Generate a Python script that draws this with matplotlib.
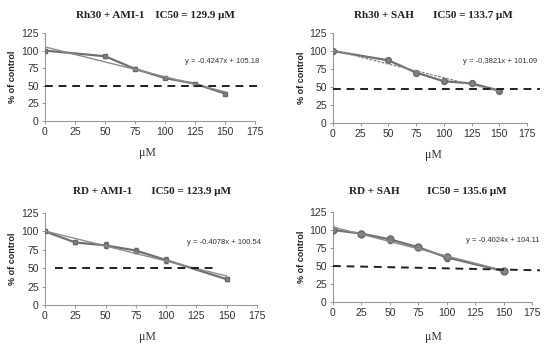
import matplotlib
matplotlib.use("Agg")
import matplotlib.pyplot as plt

# data
titles = ["Rh30 + AMI-1    IC50 = 129.9 \u03bcM", "Rh30 + SAH       IC50 = 133.7 \u03bcM",
          "RD + AMI-1       IC50 = 123.9 \u03bcM", "RD + SAH          IC50 = 135.6 \u03bcM"]
x_rh30 = [0, 50, 75, 100, 125, 150]
x_rd = [0, 25, 50, 75, 100, 150]
y_rh30_ami = [100, 92, 74, 61, 53, 39]
y_rh30_sah = [100, 87, 70, 58, 55, 45]
y_rd_ami = [100, 85, 81, 74, 61, 35]
y_rd_sah = [100, 95, 87, 76, 62, 43]
err_rh30_ami = [1.5, 2, 2, 2, 1.5, 1.5]
err_rh30_sah = [1, 2, 2, 2, 1.5, 1.5]
err_rd_ami = [1, 2, 4, 3, 4, 2]
err_rd_sah = [1, 3, 5, 2, 5, 2]
slopes = [-0.4247, -0.3821, -0.4078, -0.4024]
intercepts = [105.18, 101.09, 100.54, 104.11]
eq_text = ["y = -0.4247x + 105.18", "y = -0,3821x + 101.09",
           "y = -0.4078x + 100.54", "y = -0.4024x + 104.11"]
half_x = [[0, 182], [0, 187], [8, 143], [0, 182]]
half_y = [[50, 50], [47, 47], [50, 50], [50, 44]]
xticks = [0, 25, 50, 75, 100, 125, 150, 175]
yticks = [0, 25, 50, 75, 100, 125]

W, H = 550, 348
fig = plt.figure(figsize=(5.5, 3.48), dpi=100)

# pixel boxes: left, top, right, bottom
boxes = [(45, 33, 255, 121), (333, 33, 527, 123), (45, 213, 257, 305), (333, 212, 532, 302)]
title_pos = [(155, 15), (433, 16), (152, 191), (428, 191)]
xlab_pos = [(147, 153), (433, 155), (147, 337), (433, 337)]
ylab_x = [13, 301, 13, 301]

xs = [x_rh30, x_rh30, x_rd, x_rd]
ys = [y_rh30_ami, y_rh30_sah, y_rd_ami, y_rd_sah]
errs = [err_rh30_ami, err_rh30_sah, err_rd_ami, err_rd_sah]
trend_styles = ["-", (0, (2, 1)), "-", "-"]
markers = ["s", "o", "s", "o"]
msizes = [3.2, 4.2, 3.5, 5]

sans = "Liberation Sans"
serif = "Liberation Serif"

for i in range(4):
    l, t, r, b = boxes[i]
    ax = fig.add_axes([l / W, 1 - b / H, (r - l) / W, (b - t) / H])
    ax.errorbar(xs[i], ys[i], yerr=errs[i], color="#707070", lw=1.6, marker=markers[i],
                ms=msizes[i], mfc="#808080", mec="#6a6a6a", ecolor="#606060",
                elinewidth=0.8, capsize=1.5, zorder=3)
    tx = [0, 150]
    ty = [slopes[i] * v + intercepts[i] for v in tx]
    ax.plot(tx, ty, color="#8c8c8c", lw=1.0, ls=trend_styles[i], zorder=4)
    ax.plot(half_x[i], half_y[i], color="#202020", lw=1.4, ls=(0, (4, 3)),
            clip_on=False, zorder=5)
    ax.text(117, 85, eq_text[i], fontsize=5.5, family=sans, color="#333333",
            va="center", ha="left")
    ax.set_xlim(0, 175)
    ax.set_ylim(0, 125)
    ax.set_xticks(xticks)
    ax.set_yticks(yticks)
    ax.tick_params(labelsize=7.5, length=2.5, width=0.7, color="#999999",
                   labelcolor="#333333", pad=2)
    for lab in ax.get_xticklabels() + ax.get_yticklabels():
        lab.set_family(sans)
    for s in ["top", "right"]:
        ax.spines[s].set_visible(False)
    for s in ["left", "bottom"]:
        ax.spines[s].set_color("#999999")
        ax.spines[s].set_linewidth(0.8)
    fig.text(title_pos[i][0] / W, 1 - title_pos[i][1] / H, titles[i], fontsize=8,
             family=serif, fontweight="bold", ha="center", va="center", color="#222222")
    fig.text(xlab_pos[i][0] / W, 1 - xlab_pos[i][1] / H, "\u03bcM", fontsize=8.5,
             family=serif, ha="center", va="center", color="#333333")
    fig.text(ylab_x[i] / W, 1 - ((t + b) / 2) / H, "% of control", fontsize=6.5,
             family=sans, fontweight="bold", rotation=90, ha="center", va="center",
             color="#222222")

fig.savefig("out.png", dpi=100, facecolor="white")
